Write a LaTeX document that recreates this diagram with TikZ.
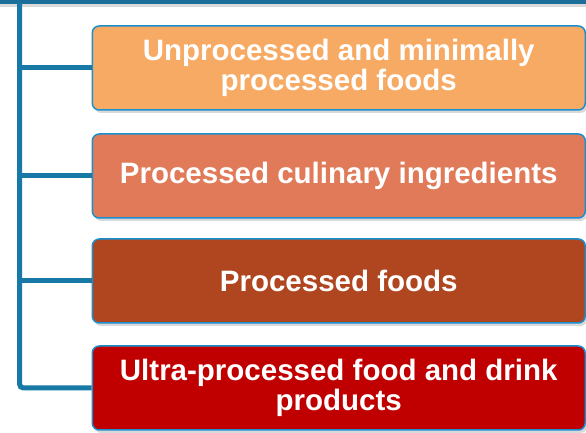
\documentclass[tikz,border=0pt]{standalone}
\usepackage{fontspec}
\setmainfont{Liberation Sans}
\usepackage{xcolor}
\usepackage{tikz}
\usetikzlibrary{shadows}

\definecolor{balken}{HTML}{1A6E99}
\definecolor{linie}{HTML}{1879A6}
\definecolor{rand}{HTML}{1A8FD0}
\definecolor{stufeA}{HTML}{F7AA64}
\definecolor{stufeB}{HTML}{E07A58}
\definecolor{stufeC}{HTML}{B0461F}
\definecolor{stufeD}{HTML}{C00000}

\begin{document}
\begin{tikzpicture}[x=1pt,y=1pt,
stufe/.style={draw=rand, line width=1.5pt, rounded corners=7pt,
  minimum width=493pt, minimum height=84pt, text=white, align=center,
  font=\fontsize{29.5}{30}\selectfont\bfseries,
  drop shadow={shadow xshift=2pt, shadow yshift=-3pt, opacity=0.3}},
ast/.style={linie, line width=5pt},
]
\useasboundingbox (0,0) rectangle (586,433);

\fill[balken, drop shadow={shadow xshift=0pt, shadow yshift=-2.5pt, opacity=0.3}] (0,428.5) rectangle (586,434);

\node[stufe,fill=stufeA] (unproc) at (338.75,365){Unprocessed and minimally\\processed foods};
\node[stufe,fill=stufeB] (culin) at (338.75,257){Processed culinary ingredients};
\node[stufe,fill=stufeC] (proc) at (338.75,152){Processed foods};
\node[stufe,fill=stufeD] (ultra) at (338.75,45){Ultra-processed food and drink\\products};

\coordinate (oben) at (19.5,430);
\draw[ast] (oben) |- (unproc.west);
\draw[ast] (oben) |- (culin.west);
\draw[ast] (oben) |- (proc.west);
\draw[ast, rounded corners=4pt] (oben) |- (ultra.west);


\end{tikzpicture}
\end{document}
